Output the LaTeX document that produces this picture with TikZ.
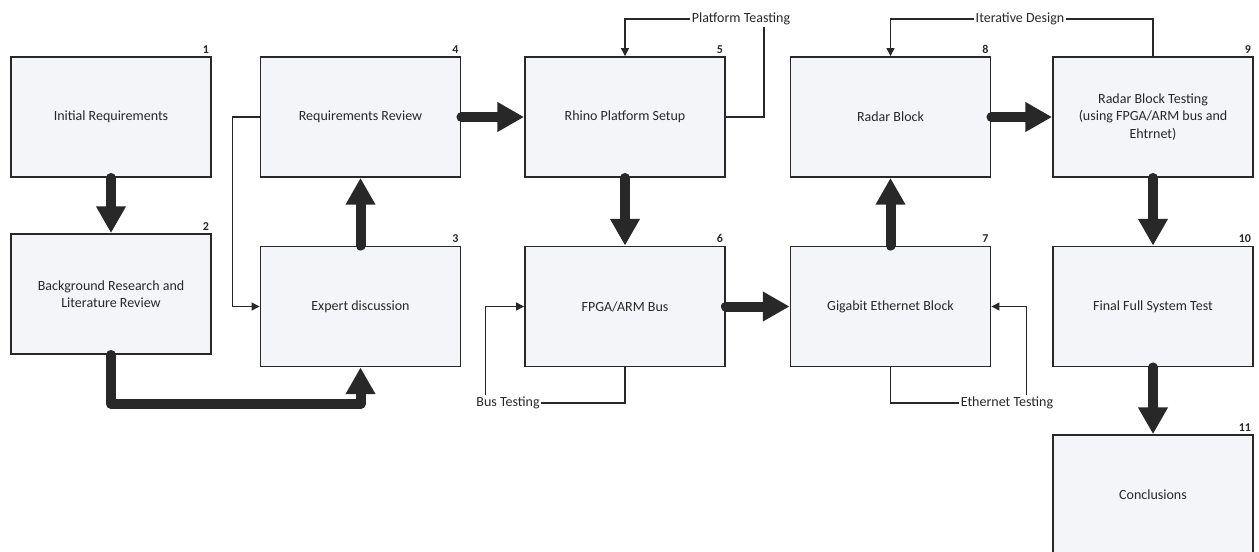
\documentclass[tikz,border=0pt]{standalone}
\usepackage{fontspec}
\setmainfont{Carlito}
\usetikzlibrary{arrows.meta}
\definecolor{boxfill}{RGB}{244,245,249}
\definecolor{ink}{RGB}{40,40,40}

\begin{document}
\begin{tikzpicture}[x=0.75pt, y=-0.75pt,
   stage/.style={draw=ink, line width=1.4pt, fill=boxfill, minimum width=150pt, minimum height=90pt,
     align=center, text=ink, font=\fontsize{10.5}{13}\selectfont},
   num/.style={anchor=south east, inner sep=2pt, text=ink, font=\fontsize{9}{10}\selectfont\bfseries},
   note/.style={inner sep=1pt, text=ink, font=\fontsize{10.5}{11}\selectfont},
   bigarrow/.style={draw=ink, line width=7.5pt, line cap=round, line join=round,
     -{Triangle[length=20pt, width=21pt]}},
   fb/.style={draw=ink, line width=0.9pt},
   fbarrow/.style={fb, -{Triangle[length=6pt, width=6pt]}}]
   \useasboundingbox (0,0) rectangle (1259,551);
   \node[stage] (b1) at (111,117) {Initial Requirements};
   \node[stage] (b2) at (111,294) {Background Research and\\Literature Review};
   \node[stage] (b3) at (360.5,306.5) {Expert discussion};
   \node[stage] (b4) at (360.5,117) {Requirements Review};
   \node[stage] (b5) at (625,117) {Rhino Platform Setup};
   \node[stage] (b6) at (625,306.5) {FPGA/ARM Bus};
   \node[stage] (b7) at (890.5,306.5) {Gigabit Ethernet Block};
   \node[stage] (b8) at (890.5,117) {Radar Block};
   \node[stage] (b9) at (1153,117) {Radar Block Testing\\(using FPGA/ARM bus and\\Ehtrnet)};
   \node[stage] (b10) at (1153,306.5) {Final Full System Test};
   \node[stage] (b11) at (1153,495) {Conclusions};
   \foreach \i in {1,...,11}
     \node[num] (n\i) at (b\i.north east) {\i};
   \node[note] (pt) at (741,19) {Platform Teasting};
   \node[note] (it) at (1020,19) {Iterative Design};
   \node[note] (bt) at (508,403) {Bus Testing};
   \node[note] (et) at (1007,403) {Ethernet Testing};
   \draw[bigarrow] (b1.south) -- (b2.north);
   \draw[bigarrow] (b2.south) -- ++(0,49) -| (b3.south);
   \draw[bigarrow] (b3.north) -- (b4.south);
   \draw[bigarrow] (b4.east) -- (b5.west);
   \draw[bigarrow] (b5.south) -- (b6.north);
   \draw[bigarrow] (b6.east) -- (b7.west);
   \draw[bigarrow] (b7.north) -- (b8.south);
   \draw[bigarrow] (b8.east) -- (b9.west);
   \draw[bigarrow] (b9.south) -- (b10.north);
   \draw[bigarrow] (b10.south) -- (b11.north);
   \draw[fbarrow] (b4.west) -- ++(-27,0) |- (b3.west);
   \draw[fb] (b5.east) -- ++(38,0) coordinate (ptc) -- (ptc |- pt.south);
   \draw[fbarrow] (pt.west) -| (b5.north);
   \draw[fb] (b9.north) |- (it.east);
   \draw[fbarrow] (it.west) -| (b8.north);
   \draw[fb] (b6.south) |- (bt.east);
   \draw[fbarrow] (bt.north west) ++(11,0) |- (b6.west);
   \draw[fb] (b7.south) |- (et.west);
   \draw[fbarrow] (et.north east) ++(-28,0) |- (b7.east);
\end{tikzpicture}
\end{document}
